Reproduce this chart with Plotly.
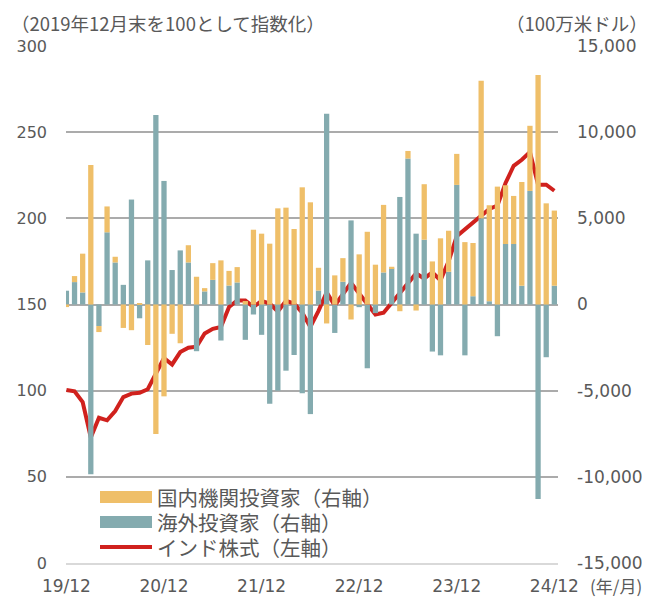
import plotly.graph_objects as go

months = ["19/12", "20/12", "21/12", "22/12", "23/12", "24/12"]
tick_idx = [0, 12, 24, 36, 48, 60]

# Foreign investors (right axis, USD mn)
foreign = [800, 1300, 700, -9850, -1250, 4190, 2440, 1140, 6090, -800,
           2560, 11000, 7170, 2000, 3140, 2440, -2710, 760, 1430, -2090,
           1100, 1280, -2050, -580, -1760, -5760, -5000, -3840, -2930, -5150,
           -6360, 810, 11070, -1650, 1320, 4880, -155, -3700, -500, 1860,
           2090, 6240, 8470, 4110, 3760, -2730, -2950, 1900, 6940, -2950,
           480, 5000, 190, -1840, 3510, 3510, 1090, 6590, -11280, -3060,
           1090]
# Domestic institutional investors (right axis, USD mn)
domestic = [-150, 350, 2250, 8100, -350, 1500, 330, -1360, -1490, 50,
            -2350, -7520, -5330, -1700, -2250, 1000, 1610, 190, 970, 2560,
            850, 890, 200, 4340, 4110, 3530, 5580, 5620, 4380, 6800,
            5930, 1320, -1100, 1690, 1370, -870, 2910, 4220, 2310, 3920,
            100, -390, 440, -350, 3220, 2500, 3840, 2380, 1800, 3620,
            3090, 7980, 5570, 6840, 3410, 2790, 6020, 3780, 13310, 5870,
            4360]
# Indian equities (left axis, Dec 2019 = 100)
india = [100.4, 99.6, 93.4, 72.8, 84.3, 82.8, 88.2, 96.3, 98.3, 98.8,
         100.8, 109.8, 118.9, 115.2, 122.4, 124.9, 125.5, 133.2, 135.9, 136.9,
         148.6, 152.3, 152.3, 148.6, 152.1, 150.6, 146.0, 152.1, 150.6, 145.2,
         137.0, 146.3, 157.1, 149.4, 156.0, 162.6, 156.4, 150.2, 144.2, 145.2,
         151.0, 156.8, 162.4, 168.0, 165.1, 168.6, 164.1, 175.1, 189.6, 193.5,
         197.7, 201.2, 205.4, 207.4, 220.5, 230.5, 234.0, 238.5, 219.5, 219.5,
         216.0]

left_ticks = [0, 50, 100, 150, 200, 250, 300]
right_ticks = [-15000, -10000, -5000, 0, 5000, 10000, 15000]
right_labels = ["-15,000", "-10,000", "-5,000", "0", "5,000", "10,000", "15,000"]

YELLOW = "#EFBF69"
TEAL = "#84ABAF"
RED = "#D0211D"
TXT = "#595959"
JP = "Noto Sans CJK JP"
NUM = "DejaVu Sans"

x = list(range(len(india)))

fig = go.Figure()
fig.add_trace(go.Bar(x=x, y=foreign, marker=dict(color=TEAL, line=dict(width=0)),
                     yaxis="y2", name="海外投資家（右軸）", showlegend=False))
fig.add_trace(go.Bar(x=x, y=domestic, marker=dict(color=YELLOW, line=dict(width=0)),
                     yaxis="y2", name="国内機関投資家（右軸）", showlegend=False))
fig.add_trace(go.Scatter(x=x, y=india, mode="lines", line=dict(color=RED, width=4),
                         yaxis="y", name="インド株式（左軸）", showlegend=False))

# page body adds an 8px offset; work in window pixels and convert
OFF = 8
W, H = 642, 590
L, R, T, B = 58, 92, 38, 35
pw, ph = W - L - R, H - T - B

def px(v):
    return (v - OFF - L) / pw

def py(v):
    return (H - B - (v - OFF)) / ph

shapes = []
annots = []
leg = [("国内機関投資家（右軸）", YELLOW, "rect", 497),
       ("海外投資家（右軸）", TEAL, "rect", 522),
       ("インド株式（左軸）", RED, "line", 547)]
for label, col, kind, yc in leg:
    if kind == "rect":
        shapes.append(dict(type="rect", xref="paper", yref="paper",
                           x0=px(100), x1=px(152), y0=py(yc - 6), y1=py(yc + 6),
                           fillcolor=col, line=dict(width=0)))
    else:
        shapes.append(dict(type="line", xref="paper", yref="paper",
                           x0=px(100), x1=px(152), y0=py(yc), y1=py(yc),
                           line=dict(color=col, width=4)))
    annots.append(dict(text=label, xref="paper", yref="paper", x=px(155), y=py(yc),
                       xanchor="left", yanchor="middle", showarrow=False,
                       font=dict(family=JP, size=20.5, color=TXT)))

annots.append(dict(text="（2019年12月末を100として指数化）", xref="paper", yref="paper",
                   x=px(9), y=py(8), xanchor="left", yanchor="top", showarrow=False,
                   font=dict(family=JP, size=18.5, color=TXT)))
annots.append(dict(text="（100万米ドル）", xref="paper", yref="paper",
                   x=px(650), y=py(8), xanchor="right", yanchor="top", showarrow=False,
                   font=dict(family=JP, size=18.5, color=TXT)))
annots.append(dict(text="(年/月)", xref="paper", yref="paper",
                   x=px(588), y=py(585), xanchor="left", yanchor="middle", showarrow=False,
                   font=dict(family=JP, size=17, color=TXT)))

fig.update_layout(
    width=W, height=H,
    margin=dict(l=L, r=R, t=T, b=B, pad=0, autoexpand=False),
    paper_bgcolor="white", plot_bgcolor="white",
    barmode="relative", bargap=0.35,
    xaxis=dict(range=[-0.05, 60.45], tickvals=tick_idx, ticktext=months, automargin=False,
               showgrid=False, zeroline=False, showline=True, linecolor="#d9d9d9", linewidth=2,
               ticks="", ticklabelstandoff=7,
               tickfont=dict(family=NUM, size=17, color=TXT)),
    yaxis=dict(range=[0, 300], tickvals=left_ticks, showgrid=True, gridcolor="#ababab",
               gridwidth=1.5, zeroline=False, showline=False, ticks="", automargin=False,
               ticklabelstandoff=18, tickfont=dict(family=NUM, size=16, color=TXT)),
    yaxis2=dict(range=[-15000, 15000], tickvals=right_ticks, ticktext=right_labels,
                overlaying="y", side="right",
                showgrid=False, zeroline=False, showline=False, ticks="", automargin=False,
                ticklabelstandoff=18,
                tickfont=dict(family=NUM, size=17, color=TXT)),
    shapes=shapes, annotations=annots,
)

fig.write_html("out.html")
